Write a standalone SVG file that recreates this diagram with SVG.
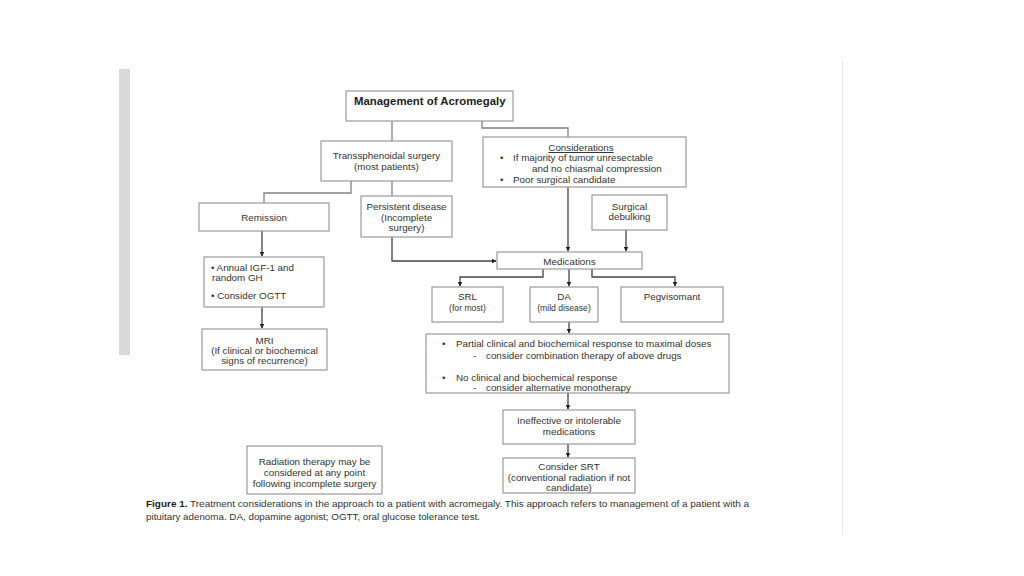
<svg xmlns="http://www.w3.org/2000/svg" width="1024" height="576" viewBox="0 0 1024 576">
<style>
.box{fill:#fff;stroke:#9a9a9a;stroke-width:1.2}
.t{font-family:"Liberation Sans",Arial,sans-serif;font-size:9.8px;fill:#333}
.c{text-anchor:middle}
.b{font-weight:bold;font-size:11.4px;fill:#222}
.ln{fill:none;stroke:#808080;stroke-width:1.3}
.ar{fill:none;stroke:#444;stroke-width:1.3;marker-end:url(#ah)}
.cap{font-family:"Liberation Sans",Arial,sans-serif;font-size:9.6px;fill:#333}
</style>
<defs>
<marker id="ah" viewBox="0 0 10 10" refX="9" refY="5" markerWidth="5" markerHeight="5" markerUnits="userSpaceOnUse" orient="auto"><path d="M0,0L10,5L0,10z" fill="#222"/></marker>
</defs>
<rect width="1024" height="576" fill="#fff"/>
<rect x="119" y="69" width="11" height="286" fill="#d9d9d9"/>
<line x1="842.5" y1="61" x2="842.5" y2="535" stroke="#e6e6e6" stroke-width="1"/>

<g id="connectors">
<polyline class="ln" points="392,121 392,141"/>
<polyline class="ln" points="482,121 482,128 568,128 568,137"/>
<polyline class="ln" points="351,181 351,193 264,193 264,203"/>
<polyline class="ln" points="392,181 392,196"/>
<polyline class="ar" points="392,237 392,261 496,261"/>
<polyline class="ar" points="568,187 568,251"/>
<polyline class="ar" points="626,230 626,251"/>
<polyline class="ar" points="543,269 543,277 460,277 460,286"/>
<polyline class="ar" points="569,269 569,286"/>
<polyline class="ar" points="592,269 592,277 675,277 675,286"/>
<polyline class="ar" points="569,322 569,333"/>
<polyline class="ar" points="568,393 568,409"/>
<polyline class="ar" points="568,444 568,457"/>
<polyline class="ar" points="262,231 262,256"/>
<polyline class="ar" points="262,307 262,328"/>
</g>

<g id="title"><rect class="box" x="346" y="91" width="167" height="30"/>
<text class="t b" x="354" y="105">Management of Acromegaly</text></g>

<g id="transsphenoidal"><rect class="box" x="321" y="141" width="131" height="40"/>
<text class="t c" x="386.5" y="159">Transsphenoidal surgery</text>
<text class="t c" x="386.5" y="170">(most patients)</text></g>

<g id="considerations"><rect class="box" x="483" y="137" width="203" height="50"/>
<text class="t c" x="581" y="151" text-decoration="underline">Considerations</text>
<text class="t" x="500" y="161">•</text>
<text class="t" x="513" y="161">If majority of tumor unresectable</text>
<text class="t" x="532" y="172">and no chiasmal compression</text>
<text class="t" x="500" y="183">•</text>
<text class="t" x="513" y="183">Poor surgical candidate</text></g>

<g id="remission"><rect class="box" x="199" y="203" width="130" height="28"/>
<text class="t c" x="264" y="221">Remission</text></g>

<g id="persistent"><rect class="box" x="361" y="196" width="91" height="41"/>
<text class="t c" x="406.5" y="210">Persistent disease</text>
<text class="t c" x="406.5" y="221">(Incomplete</text>
<text class="t c" x="406.5" y="231">surgery)</text></g>

<g id="debulking"><rect class="box" x="592" y="195" width="75" height="35"/>
<text class="t c" x="629.5" y="210">Surgical</text>
<text class="t c" x="629.5" y="220">debulking</text></g>

<g id="medications"><rect class="box" x="497" y="252" width="145" height="17"/>
<text class="t c" x="569.5" y="264.5">Medications</text></g>

<g id="srl"><rect class="box" x="432" y="287" width="71" height="35"/>
<text class="t c" x="467.5" y="300">SRL</text>
<text class="t c" x="467.5" y="311" style="font-size:8.6px">(for most)</text></g>

<g id="da"><rect class="box" x="530" y="287" width="68" height="35"/>
<text class="t c" x="564" y="300">DA</text>
<text class="t c" x="564" y="311" style="font-size:8.6px">(mild disease)</text></g>

<g id="pegvisomant"><rect class="box" x="621" y="287" width="102" height="35"/>
<text class="t c" x="672" y="300">Pegvisomant</text></g>

<g id="response"><rect class="box" x="426" y="334" width="303" height="59"/>
<text class="t" x="442" y="347">•</text>
<text class="t" x="456" y="347">Partial clinical and biochemical response to maximal doses</text>
<text class="t" x="473" y="359">-</text>
<text class="t" x="486" y="359">consider combination therapy of above drugs</text>
<text class="t" x="442" y="381">•</text>
<text class="t" x="456" y="381">No clinical and biochemical response</text>
<text class="t" x="473" y="391">-</text>
<text class="t" x="486" y="391">consider alternative monotherapy</text></g>

<g id="ineffective"><rect class="box" x="503" y="410" width="132" height="34"/>
<text class="t c" x="569" y="424">Ineffective or intolerable</text>
<text class="t c" x="569" y="435">medications</text></g>

<g id="srt"><rect class="box" x="503" y="458" width="132" height="35"/>
<text class="t c" x="569" y="470">Consider SRT</text>
<text class="t c" x="569" y="481">(conventional radiation if not</text>
<text class="t c" x="569" y="491">candidate)</text></g>

<g id="annual"><rect class="box" x="204" y="257" width="120" height="50"/>
<text class="t" x="211" y="271">• Annual IGF-1 and</text>
<text class="t" x="212" y="281">random GH</text>
<text class="t" x="211" y="299">• Consider OGTT</text></g>

<g id="mri"><rect class="box" x="202" y="329" width="125" height="41"/>
<text class="t c" x="264.5" y="344">MRI</text>
<text class="t c" x="264.5" y="354">(If clinical or biochemical</text>
<text class="t c" x="264.5" y="364">signs of recurrence)</text></g>

<g id="radiation"><rect class="box" x="247" y="446" width="135" height="48"/>
<text class="t c" x="314.5" y="465">Radiation therapy may be</text>
<text class="t c" x="314.5" y="476">considered at any point</text>
<text class="t c" x="314.5" y="487">following incomplete surgery</text></g>

<g id="caption">
<text class="cap" x="146" y="507" textLength="603" lengthAdjust="spacingAndGlyphs"><tspan font-weight="bold" fill="#222">Figure 1.</tspan>  Treatment considerations in the approach to a patient with acromegaly. This approach refers to management of a patient with a</text>
<text class="cap" x="146" y="520" textLength="334" lengthAdjust="spacingAndGlyphs">pituitary adenoma. DA, dopamine agonist; OGTT, oral glucose tolerance test.</text>
</g>
</svg>
